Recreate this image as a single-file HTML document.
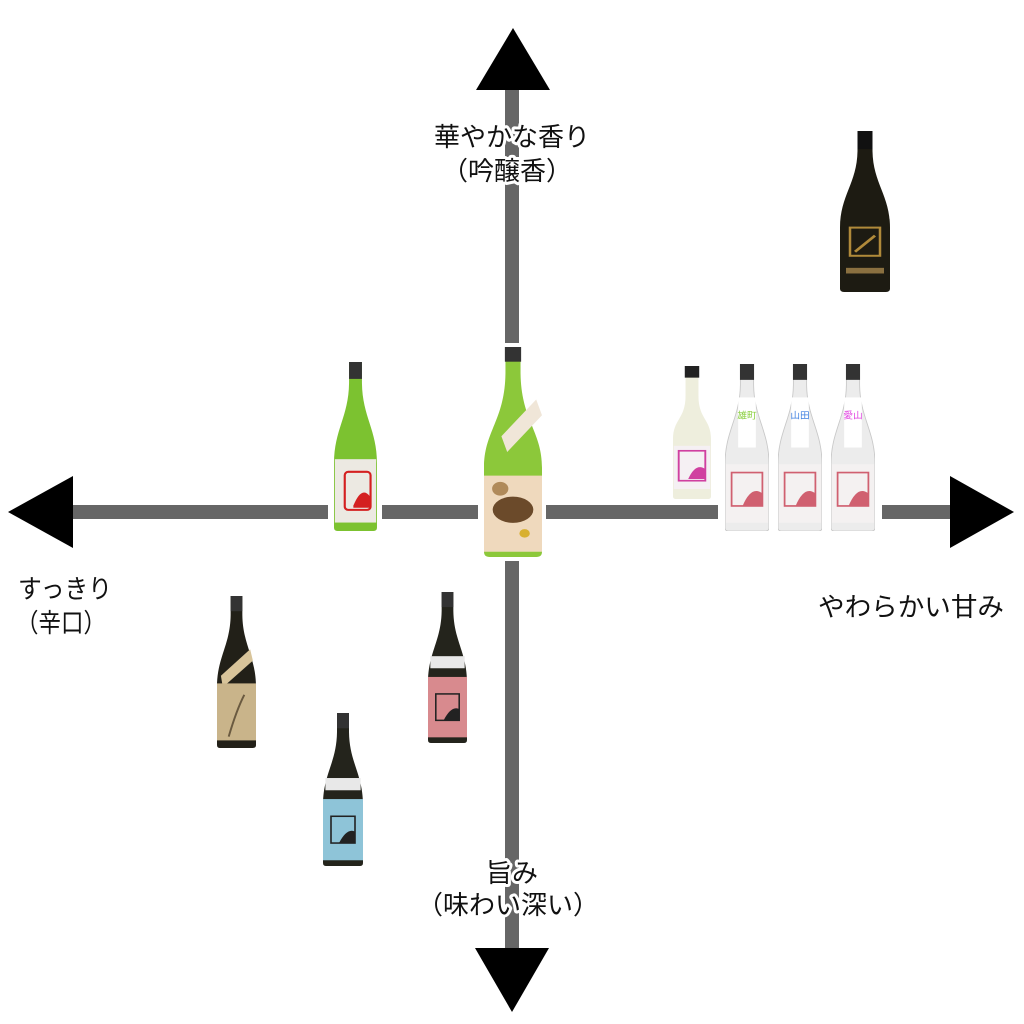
<!DOCTYPE html>
<html><head><meta charset="utf-8"><style>
html,body{margin:0;padding:0;background:#fff;width:1024px;height:1024px;overflow:hidden}
text{font-family:"Liberation Sans","Noto Sans CJK JP",sans-serif;font-size:26px;fill:#111}
.h{stroke:#fff;stroke-width:6px;paint-order:stroke;stroke-linejoin:round}
</style></head><body>
<svg width="1024" height="1024" viewBox="0 0 1024 1024" xmlns="http://www.w3.org/2000/svg">
<defs>
<path id="b7" d="M35,0 H65 V50 C66,130 100,160 100,240 V392 Q100,400 92,400 H8 Q0,400 0,392 V240 C0,160 34,130 35,50 Z"/>
</defs>
<!-- axes -->
<rect x="505" y="88" width="14" height="862" fill="#666"/>
<rect x="70" y="505" width="882" height="14" fill="#666"/>
<polygon points="513,28 476,90 550,90" fill="#000"/>
<polygon points="512,1012 475,948 549,948" fill="#000"/>
<polygon points="8,512 73,476 73,548" fill="#000"/>
<polygon points="1014,512 950,476 950,548" fill="#000"/>

<!-- white backgrounds behind bottles -->
<rect x="328" y="358" width="54" height="178" fill="#fff"/>
<rect x="478" y="343" width="68" height="218" fill="#fff"/>
<rect x="718" y="360" width="164" height="175" fill="#fff"/>

<!-- black bottle -->
<svg x="840" y="131" width="50" height="161" viewBox="0 0 100 400" preserveAspectRatio="none">
<use href="#b7" fill="#1d1b12"/><rect x="35" y="0" width="30" height="45" fill="#111"/>
<rect x="20" y="240" width="60" height="70" fill="none" stroke="#b08a3a" stroke-width="5"/>
<path d="M30,300 L70,260" stroke="#b08a3a" stroke-width="6"/>
<rect x="12" y="340" width="76" height="14" fill="#8a7040"/>
</svg>

<!-- green bottle -->
<svg x="334" y="362" width="43" height="169" viewBox="0 0 100 400" preserveAspectRatio="none">
<use href="#b7" fill="#7cc230"/><rect x="35" y="0" width="30" height="40" fill="#333"/>
<rect x="2" y="230" width="96" height="150" fill="#ece9e2"/>
<rect x="25" y="260" width="60" height="90" fill="none" stroke="#d42020" stroke-width="5" rx="8"/>
<path d="M45,340 Q65,290 85,320 V345 H45 Z" fill="#d42020"/>
</svg>

<!-- center duck bottle -->
<svg x="484" y="347" width="58" height="210" viewBox="0 0 100 400" preserveAspectRatio="none">
<path d="M37,0 H63 V50 C64,140 100,160 100,230 V390 Q100,400 90,400 H10 Q0,400 0,390 V230 C0,160 36,140 37,50 Z" fill="#8cc83a"/>
<rect x="36" y="0" width="28" height="28" fill="#333"/>
<polygon points="30,170 90,100 100,130 40,200" fill="#f0e6d8"/>
<rect x="0" y="245" width="100" height="145" fill="#efd9bd"/>
<ellipse cx="50" cy="310" rx="35" ry="25" fill="#6b4a2a"/>
<ellipse cx="28" cy="270" rx="14" ry="13" fill="#b08a5a"/>
<ellipse cx="70" cy="355" rx="9" ry="8" fill="#d8b030"/>
</svg>

<!-- small white bottle -->
<svg x="673" y="366" width="38" height="133" viewBox="0 0 100 400" preserveAspectRatio="none">
<path d="M33,0 H67 V90 C67,160 100,160 100,220 V392 Q100,400 92,400 H8 Q0,400 0,392 V220 C0,160 33,160 33,90 Z" fill="#eeeedd"/>
<rect x="31" y="0" width="38" height="35" fill="#222"/>
<rect x="2" y="240" width="96" height="130" fill="#f5f0f3"/>
<rect x="15" y="255" width="70" height="90" fill="none" stroke="#d040a0" stroke-width="5"/>
<path d="M40,340 Q60,290 85,310 V340 Z" fill="#d040a0"/>
</svg>

<!-- clear bottles -->
<svg x="725" y="364" width="44" height="167" viewBox="0 0 100 400" preserveAspectRatio="none">
<use href="#b7" fill="#ececec" stroke="#c8c8c8" stroke-width="2"/><rect x="34" y="0" width="32" height="38" fill="#333"/>
<rect x="30" y="80" width="40" height="120" fill="#fff"/>
<text x="50" y="130" text-anchor="middle" style="font-size:22px;fill:#8bd040">雄町</text>
<rect x="2" y="240" width="96" height="140" fill="#f4f1f1"/>
<rect x="15" y="260" width="70" height="80" fill="none" stroke="#d06070" stroke-width="4"/>
<path d="M40,340 Q60,290 85,310 V340 Z" fill="#d06070"/>
</svg>
<svg x="778" y="364" width="44" height="167" viewBox="0 0 100 400" preserveAspectRatio="none">
<use href="#b7" fill="#ececec" stroke="#c8c8c8" stroke-width="2"/><rect x="34" y="0" width="32" height="38" fill="#333"/>
<rect x="30" y="80" width="40" height="120" fill="#fff"/>
<text x="50" y="130" text-anchor="middle" style="font-size:22px;fill:#4080e0">山田</text>
<rect x="2" y="240" width="96" height="140" fill="#f4f1f1"/>
<rect x="15" y="260" width="70" height="80" fill="none" stroke="#d06070" stroke-width="4"/>
<path d="M40,340 Q60,290 85,310 V340 Z" fill="#d06070"/>
</svg>
<svg x="831" y="364" width="44" height="167" viewBox="0 0 100 400" preserveAspectRatio="none">
<use href="#b7" fill="#ececec" stroke="#c8c8c8" stroke-width="2"/><rect x="34" y="0" width="32" height="38" fill="#333"/>
<rect x="30" y="80" width="40" height="120" fill="#fff"/>
<text x="50" y="130" text-anchor="middle" style="font-size:22px;fill:#e040e0">愛山</text>
<rect x="2" y="240" width="96" height="140" fill="#f4f1f1"/>
<rect x="15" y="260" width="70" height="80" fill="none" stroke="#d06070" stroke-width="4"/>
<path d="M40,340 Q60,290 85,310 V340 Z" fill="#d06070"/>
</svg>

<!-- lower bottles -->
<svg x="217" y="596" width="39" height="152" viewBox="0 0 100 400" preserveAspectRatio="none">
<use href="#b7" fill="#222018"/><rect x="35" y="0" width="30" height="40" fill="#333"/>
<polygon points="10,210 85,140 92,170 15,240" fill="#d8c49a"/>
<rect x="0" y="230" width="100" height="150" fill="#c9b48a"/>
<path d="M30,370 Q50,300 70,260" stroke="#6a5a40" stroke-width="5" fill="none"/>
</svg>
<svg x="428" y="592" width="39" height="151" viewBox="0 0 100 400" preserveAspectRatio="none">
<use href="#b7" fill="#24241c"/><rect x="35" y="0" width="30" height="40" fill="#333"/>
<rect x="6" y="170" width="88" height="32" fill="#e8e8e8"/>
<rect x="0" y="225" width="100" height="160" fill="#d88a8e"/>
<rect x="20" y="270" width="60" height="70" fill="none" stroke="#222" stroke-width="4"/>
<path d="M40,340 Q60,300 80,310 V340 Z" fill="#222"/>
</svg>
<svg x="323" y="713" width="40" height="153" viewBox="0 0 100 400" preserveAspectRatio="none">
<use href="#b7" fill="#24241c"/><rect x="35" y="0" width="30" height="40" fill="#333"/>
<rect x="6" y="170" width="88" height="32" fill="#e8e8e8"/>
<rect x="0" y="225" width="100" height="160" fill="#8ec4d8"/>
<rect x="20" y="270" width="60" height="70" fill="none" stroke="#222" stroke-width="4"/>
<path d="M40,340 Q60,300 80,310 V340 Z" fill="#222"/>
</svg>

<!-- labels -->
<text class="h" x="512" y="146" text-anchor="middle">華やかな香り</text>
<text class="h" x="507" y="180" text-anchor="middle">（吟醸香）</text>
<text class="h" x="512" y="882" text-anchor="middle">旨み</text>
<text class="h" x="508" y="914" text-anchor="middle">（味わい深い）</text>
<text x="18" y="598" textLength="94" lengthAdjust="spacingAndGlyphs">すっきり</text>
<text x="16" y="632" textLength="90" lengthAdjust="spacingAndGlyphs">（辛口）</text>
<text x="818" y="616" textLength="186" lengthAdjust="spacingAndGlyphs">やわらかい甘み</text>
</svg>
</body></html>
